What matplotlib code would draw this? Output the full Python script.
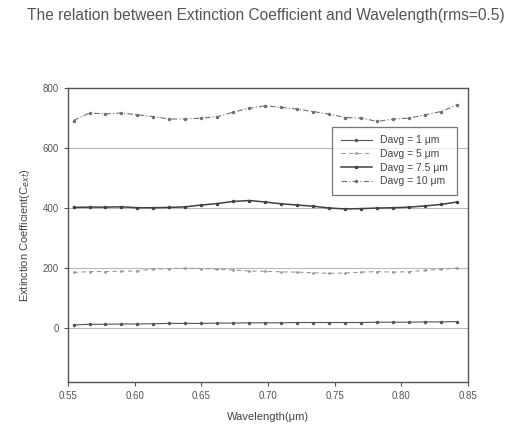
import matplotlib.pyplot as plt

plt.rcParams['font.family'] = ['Liberation Sans', 'DejaVu Sans']

# wavelengths (um)
wavelength = [0.554, 0.566, 0.578, 0.590, 0.602, 0.614, 0.626, 0.638, 0.650,
              0.662, 0.674, 0.686, 0.698, 0.710, 0.722, 0.734, 0.746, 0.758,
              0.770, 0.782, 0.794, 0.806, 0.818, 0.830, 0.842]

d1 = [10, 12, 12, 13, 13, 14, 15, 15, 15, 16, 16, 17, 17, 17, 18, 18, 18, 18,
      18, 19, 19, 19, 20, 20, 21]
d5 = [185, 188, 188, 189, 190, 196, 198, 199, 198, 196, 193, 190, 189, 187,
      186, 184, 182, 183, 186, 188, 186, 188, 192, 195, 200]
d75 = [402, 403, 403, 404, 401, 401, 402, 404, 410, 415, 422, 425, 420, 414,
       410, 406, 400, 397, 398, 400, 401, 403, 407, 412, 420]
d10 = [692, 717, 714, 717, 711, 705, 697, 697, 700, 705, 720, 733, 741, 736,
       730, 722, 713, 702, 700, 689, 697, 700, 711, 722, 744]

labels = ["Davg = 1 μm", "Davg = 5 μm", "Davg = 7.5 μm", "Davg = 10 μm"]
xticks = [0.55, 0.60, 0.65, 0.70, 0.75, 0.80, 0.85]
xticklabels = ["0.55", "0.60", "0.65", "0.70", "0.75", "0.80", "0.85"]
yticks = [0, 200, 400, 600, 800]

fig = plt.figure(figsize=(5.09, 4.30), dpi=100)
ax = fig.add_axes([0.134, 0.112, 0.785, 0.683])

for y in yticks[:-1]:
    ax.axhline(y, color='#b8b8b8', lw=0.8, zorder=0)

ax.plot(wavelength, d1, color='#555555', lw=0.8, marker='.', ms=3, label=labels[0])
ax.plot(wavelength, d5, color='#9a9a9a', lw=0.8, ls=(0, (4, 3)), marker='.', ms=2, label=labels[1])
ax.plot(wavelength, d75, color='#404040', lw=1.1, marker='.', ms=3, label=labels[2])
ax.plot(wavelength, d10, color='#707070', lw=0.8, ls=(0, (5, 2, 1, 2)), marker='.', ms=3, label=labels[3])

ax.set_xlim(0.55, 0.85)
ax.set_ylim(-180, 800)
ax.set_xticks(xticks)
ax.set_xticklabels(xticklabels)
ax.set_yticks(yticks)
ax.tick_params(labelsize=7, colors='#555555', length=3, width=0.8)
for s in ax.spines.values():
    s.set_color('#555555')
    s.set_linewidth(1.0)

ax.set_xlabel("Wavelength(μm)", fontsize=8, color='#444444', labelpad=8)
ax.set_ylabel("Extinction Coefficient(C$_{ext}$)", fontsize=8, color='#444444', labelpad=8)

fig.text(0.522, 0.965, "The relation between Extinction Coefficient and Wavelength(rms=0.5)",
         ha='center', va='center', fontsize=11.2, color='#555555')

leg = ax.legend(loc='upper right', bbox_to_anchor=(0.985, 0.885), fontsize=7.5,
                frameon=True, fancybox=False, handlelength=3, borderpad=0.8,
                labelspacing=0.35, edgecolor='#555555')
leg.get_frame().set_linewidth(0.9)
for t in leg.get_texts():
    t.set_color('#444444')

fig.savefig("out.png", dpi=100)
